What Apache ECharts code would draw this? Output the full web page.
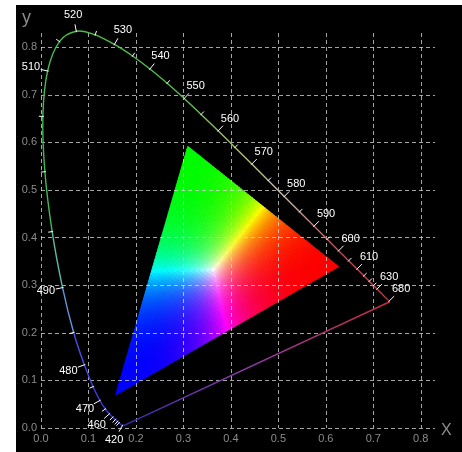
<!DOCTYPE html>
<html lang="en">
<head>
<meta charset="utf-8" />
<style>html,body{margin:0;padding:0;background:#fff;}</style>
</head>
<body>
<div id="view1" style="width:462px;height:452px"></div>
<script src="https://cdn.jsdelivr.net/npm/echarts@6/dist/echarts.min.js"></script>
<script>
// CIE 1931 spectral locus, 5 nm steps
var wavelengths = [380,385,390,395,400,405,410,415,420,425,430,435,440,445,450,455,460,465,470,475,
    480,485,490,495,500,505,510,515,520,525,530,535,540,545,550,555,560,565,570,575,
    580,585,590,595,600,605,610,615,620,625,630,635,640,645,650,655,660,665,670,675,
    680,685,690,695,700];
var locusX = [0.1741,0.1740,0.1738,0.1736,0.1733,0.1730,0.1726,0.1721,0.1714,0.1703,0.1689,0.1669,0.1644,0.1611,0.1566,0.1510,0.1440,0.1355,0.1241,0.1096,
    0.0913,0.0687,0.0454,0.0235,0.0082,0.0039,0.0139,0.0389,0.0743,0.1142,0.1547,0.1929,0.2296,0.2658,0.3016,0.3373,0.3731,0.4087,0.4441,0.4788,
    0.5125,0.5448,0.5752,0.6029,0.6270,0.6482,0.6658,0.6801,0.6915,0.7006,0.7079,0.7140,0.7190,0.7230,0.7260,0.7283,0.7300,0.7311,0.7320,0.7327,
    0.7334,0.7340,0.7344,0.7346,0.7347];
var locusY = [0.0050,0.0050,0.0049,0.0049,0.0048,0.0048,0.0048,0.0048,0.0051,0.0058,0.0069,0.0086,0.0109,0.0138,0.0177,0.0227,0.0297,0.0399,0.0578,0.0868,
    0.1327,0.2007,0.2950,0.4127,0.5384,0.6548,0.7502,0.8120,0.8338,0.8262,0.8059,0.7816,0.7543,0.7243,0.6923,0.6589,0.6245,0.5896,0.5547,0.5202,
    0.4866,0.4544,0.4242,0.3965,0.3725,0.3514,0.3340,0.3197,0.3083,0.2993,0.2920,0.2859,0.2809,0.2770,0.2740,0.2717,0.2700,0.2689,0.2680,0.2673,
    0.2666,0.2660,0.2656,0.2654,0.2653];
var labelWavelengths = [420,460,470,480,490,510,520,530,540,550,560,570,580,590,600,610,630,680];

// display gamut triangle (R, G, B primaries)
var gamutX = [0.627, 0.309, 0.157];
var gamutY = [0.339, 0.592, 0.069];

var whitePt = [0.33, 0.33];

// colour of the locus line along the wavelength
var lineStops = [[380,'#3a2ab0'],[460,'#3434d8'],[482,'#4646e8'],[490,'#70b8d0'],[498,'#40b850'],
    [550,'#58c048'],[565,'#a8c070'],[578,'#c8c0a0'],[588,'#d09090'],[600,'#c84848'],[700,'#c42c2c']];

function hexRgb(h){ return [parseInt(h.substr(1,2),16), parseInt(h.substr(3,2),16), parseInt(h.substr(5,2),16)]; }
function lineColor(w){
    for(var i = 1; i < lineStops.length; i++){
        if(w <= lineStops[i][0]){
            var a = lineStops[i-1], b = lineStops[i], t = (w - a[0]) / (b[0] - a[0]);
            var ca = hexRgb(a[1]), cb = hexRgb(b[1]);
            return 'rgb(' + ca.map(function(v, k){ return Math.round(v + (cb[k] - v) * t); }).join(',') + ')';
        }
    }
    return lineStops[lineStops.length-1][1];
}

var locusData = wavelengths.map(function(w, i){ return [locusX[i], locusY[i], w]; });
var tickData = locusData.filter(function(d){
    return (d[2] >= 440 && d[2] <= 630) || labelWavelengths.indexOf(d[2]) >= 0;
});

function locusPt(api, k){
    k = Math.max(0, Math.min(wavelengths.length - 1, k));
    return api.coord([locusX[k], locusY[k]]);
}

// spectral locus, segment by segment (smoothed), plus the purple line
function renderLocus(params, api){
    var i = params.dataIndex, n = locusData.length;
    var p0 = locusPt(api, i);
    if(i === n - 1){
        var p1 = locusPt(api, 0);
        return {type:'line', shape:{x1:p0[0], y1:p0[1], x2:p1[0], y2:p1[1]},
            style:{lineWidth:1.4, stroke:new echarts.graphic.LinearGradient(p1[0], p1[1], p0[0], p0[1],
                [{offset:0, color:'#3a2ab0'}, {offset:0.45, color:'#8a3aa8'}, {offset:1, color:'#c42c3c'}], true)}};
    }
    var pm = locusPt(api, i - 1), q = locusPt(api, i + 1), q2 = locusPt(api, i + 2);
    return {type:'bezierCurve', shape:{x1:p0[0], y1:p0[1], x2:q[0], y2:q[1],
            cpx1:p0[0] + (q[0] - pm[0]) / 6, cpy1:p0[1] + (q[1] - pm[1]) / 6,
            cpx2:q[0] - (q2[0] - p0[0]) / 6, cpy2:q[1] - (q2[1] - p0[1]) / 6},
        style:{lineWidth:1.4, fill:null, stroke:lineColor((wavelengths[i] + wavelengths[i+1]) / 2)}};
}

// wavelength ticks and labels, drawn along the outward normal
function renderTicks(params, api){
    var d = tickData[params.dataIndex], w = d[2];
    var k = wavelengths.indexOf(w);
    var a = locusPt(api, k - 1), b = locusPt(api, k + 1);
    var p = api.coord([d[0], d[1]]), c = api.coord(whitePt);
    var tx = b[0] - a[0], ty = b[1] - a[1], len = Math.sqrt(tx*tx + ty*ty) || 1;
    var nx = ty / len, ny = -tx / len;
    if(nx * (p[0] - c[0]) + ny * (p[1] - c[1]) < 0){ nx = -nx; ny = -ny; }
    var labelled = labelWavelengths.indexOf(w) >= 0;
    var tl = labelled ? 7 : 4;
    var children = [{type:'line', shape:{x1:p[0] - nx, y1:p[1] - ny, x2:p[0] + nx*tl, y2:p[1] + ny*tl},
        style:{stroke:'#ffffff', lineWidth:1}}];
    if(labelled){
        children.push({type:'text', x:p[0] + nx*17, y:p[1] + ny*17,
            style:{text:String(w), fill:'#ffffff', font:'11px "Liberation Sans", Arial, sans-serif',
                align:'center', verticalAlign:'middle'}});
    }
    return {type:'group', children:children};
}

// gamut triangle filled with normalised barycentric colour
function renderGamut(params, api){
    if(params.dataIndex !== 0) return null;
    var R = api.coord([gamutX[0], gamutY[0]]), G = api.coord([gamutX[1], gamutY[1]]), B = api.coord([gamutX[2], gamutY[2]]);
    var N = 70, gam = 2, children = [];
    function pt(a, b){ return [B[0] + (R[0]-B[0])*a/N + (G[0]-B[0])*b/N, B[1] + (R[1]-B[1])*a/N + (G[1]-B[1])*b/N]; }
    function col(a, b){
        var wr = a / N, wg = b / N, wb = 1 - wr - wg, m = Math.max(wr, wg, wb);
        return 'rgb(' + [wr, wg, wb].map(function(v){ return Math.round(Math.pow(Math.max(v, 0) / m, gam) * 255); }).join(',') + ')';
    }
    for(var i = 0; i < N; i++){
        for(var j = 0; j < N - i; j++){
            var c1 = col(i + 1/3, j + 1/3);
            children.push({type:'polygon', shape:{points:[pt(i,j), pt(i+1,j), pt(i,j+1)]},
                style:{fill:c1, stroke:c1, lineWidth:0.8}});
            if(i + j < N - 1){
                var c2 = col(i + 2/3, j + 2/3);
                children.push({type:'polygon', shape:{points:[pt(i+1,j), pt(i,j+1), pt(i+1,j+1)]},
                    style:{fill:c2, stroke:c2, lineWidth:0.8}});
            }
        }
    }
    return {type:'group', children:children};
}

var axisText = {color:'#8c8c8c', fontSize:11, fontFamily:'"Liberation Sans", Arial, sans-serif'};
var gridLine = {show:true, showMaxLine:false, lineStyle:{color:'rgba(220,220,220,0.75)', width:1, type:[4,3]}};

var option = {
    backgroundColor:'#ffffff',
    animation:false,
    graphic:[
        {type:'rect', z:-10, shape:{x:16, y:5, width:446, height:447}, style:{fill:'#000000'}},
        {type:'text', left:22, top:9, style:{text:'y', fill:'#8c8c8c', font:'18px "Liberation Sans", Arial, sans-serif'}},
        {type:'text', left:441, top:423, style:{text:'X', fill:'#8c8c8c', font:'16px "Liberation Sans", Arial, sans-serif'}}
    ],
    grid:{left:41, top:33, width:394, height:395},
    xAxis:{type:'value', min:0, max:0.83, interval:0.1,
        axisLine:{show:false}, axisTick:{show:false}, splitLine:gridLine,
        axisLabel:Object.assign({margin:5, showMaxLabel:false, formatter:function(v){ return v.toFixed(1); }}, axisText)},
    yAxis:{type:'value', min:0, max:0.83, interval:0.1,
        axisLine:{show:false}, axisTick:{show:false}, splitLine:gridLine,
        axisLabel:Object.assign({margin:4, showMaxLabel:false, formatter:function(v){ return v.toFixed(1); }}, axisText)},
    series:[
        {type:'custom', name:'gamut', z:-1, silent:true, renderItem:renderGamut,
            data:gamutX.map(function(x, i){ return [x, gamutY[i]]; })},
        {type:'custom', name:'locus', z:3, silent:true, clip:false, renderItem:renderLocus, data:locusData},
        {type:'custom', name:'ticks', z:4, silent:true, clip:false, renderItem:renderTicks, data:tickData}
    ]
};

var myChart = echarts.init(document.getElementById('view1'));
myChart.setOption(option);
</script>
</body>
</html>
